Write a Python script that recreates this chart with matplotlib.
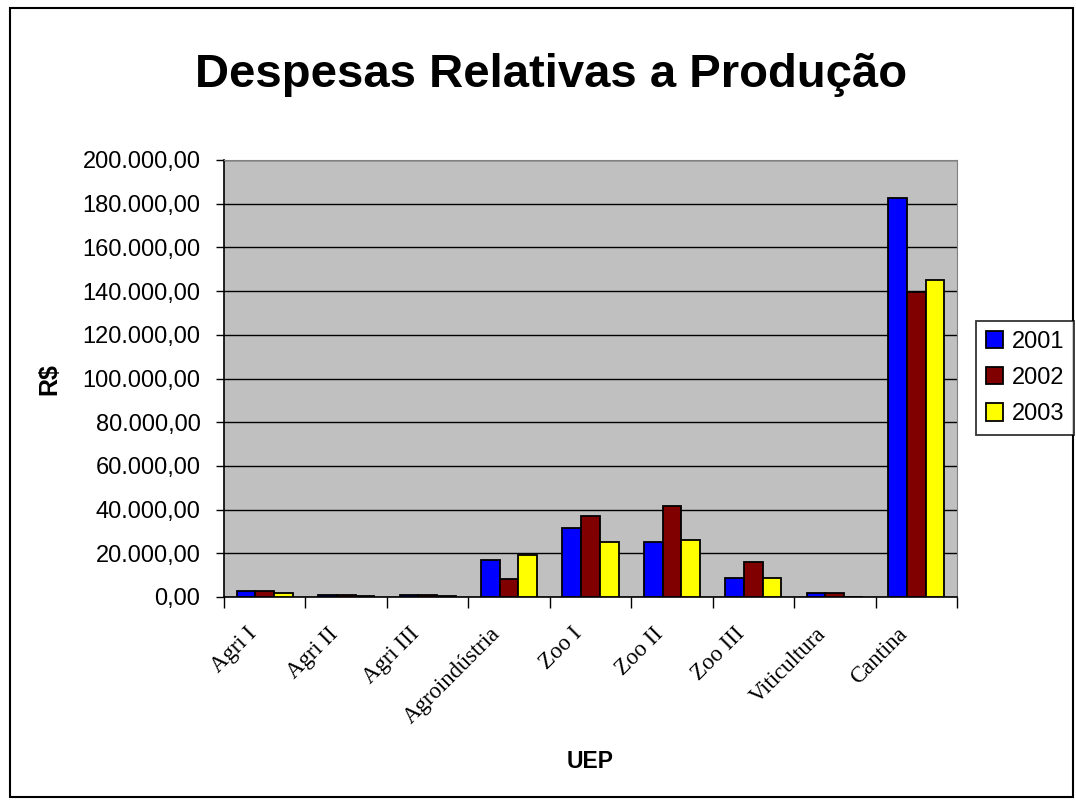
import numpy as np
import matplotlib.pyplot as plt
from matplotlib.patches import Rectangle
from matplotlib.transforms import ScaledTranslation

# dados
uep = ['Agri I', 'Agri II', 'Agri III', 'Agroindústria', 'Zoo I',
       'Zoo II', 'Zoo III', 'Viticultura', 'Cantina']
anos = ['2001', '2002', '2003']
v2001 = [2700, 800, 800, 17000, 31400, 25000, 8600, 1800, 182500]
v2002 = [2700, 700, 700, 8200, 37000, 41500, 15900, 1800, 139400]
v2003 = [1800, 600, 600, 19200, 25000, 26000, 8600, 0, 145000]
cores = ['#0000FF', '#800000', '#FFFF00']
yticks = list(range(0, 200001, 20000))

plt.rcParams['font.family'] = ['Liberation Sans', 'DejaVu Sans']

fig = plt.figure(figsize=(10.76, 8), dpi=100)
ax = fig.add_axes([224/1076, 1 - 597/800, (957-224)/1076, (597-160)/800])
ax.set_facecolor('#C0C0C0')

x = np.arange(len(uep))
w = 0.23
for k, (vals, c, ano) in enumerate(zip([v2001, v2002, v2003], cores, anos)):
    ax.bar(x + (k - 1) * w, vals, w, color=c, edgecolor='black', linewidth=1.3,
           label=ano, zorder=3)

ax.set_xlim(-0.5, len(uep) - 0.5)
ax.set_ylim(0, 200000)
ax.set_yticks(yticks)
ax.set_yticklabels(['{:,.2f}'.format(v).replace(',', 'X').replace('.', ',').replace('X', '.')
                    for v in yticks], fontsize=17)
ax.yaxis.grid(True, color='black', linewidth=1, zorder=1)
ax.set_axisbelow(True)
ax.tick_params(axis='y', length=6, width=1, pad=11)

# ticks nas fronteiras das categorias, rotulos no centro
ax.set_xticks(np.arange(-0.5, len(uep)), minor=False)
ax.set_xticklabels([])
ax.tick_params(axis='x', length=8, width=1)
ax.set_xticks(x, minor=True)
ax.set_xticklabels(uep, minor=True, rotation=45, ha='right', va='top',
                   rotation_mode='anchor', fontsize=16.5, family='Liberation Serif')
ax.tick_params(axis='x', which='minor', length=0, pad=19)
desloc = ScaledTranslation(-19/100, 0, fig.dpi_scale_trans)
for lbl in ax.get_xticklabels(minor=True):
    lbl.set_transform(lbl.get_transform() + desloc)

for s in ['top', 'right']:
    ax.spines[s].set_color('#808080')
ax.spines['left'].set_linewidth(1.2)
ax.spines['bottom'].set_linewidth(1.2)

fig.text(551/1076, 1 - 75/800, 'Despesas Relativas a Produção', ha='center',
         va='center', fontsize=34, fontweight='bold')
fig.text(49/1076, 1 - 379/800, 'R$', ha='center', va='center', rotation=90,
         fontsize=18, fontweight='bold')
fig.text(590/1076, 1 - 762/800, 'UEP', ha='center', va='center',
         fontsize=16.5, fontweight='bold')

leg = fig.legend(loc='center', bbox_to_anchor=(1025/1076, 1 - 378/800), fontsize=17,
                 frameon=True, fancybox=False, edgecolor='black', handlelength=0.75,
                 handleheight=0.75, handletextpad=0.35, borderpad=0.4, labelspacing=0.6,
                 borderaxespad=0)
leg.get_frame().set_linewidth(1.3)

fig.patches.append(Rectangle((10/1076, 3/800), 1063/1076, 789/800, fill=False,
                             edgecolor='black', linewidth=1.5, transform=fig.transFigure))

fig.savefig('out.png', dpi=100)
